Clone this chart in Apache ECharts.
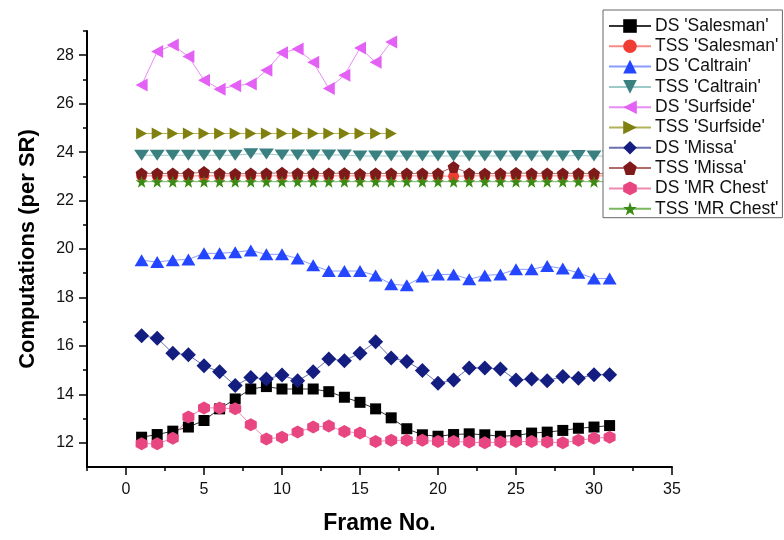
<!DOCTYPE html>
<html>
<head>
<meta charset="utf-8">
<script src="https://cdn.jsdelivr.net/npm/echarts@6/dist/echarts.min.js"></script>
<style>html,body{margin:0;padding:0;background:#fff}#c{width:784px;height:540px}</style>
</head>
<body>
<div id="c"></div>
<script>
var frames = [1,2,3,4,5,6,7,8,9,10,11,12,13,14,15,16,17,18,19,20,21,22,23,24,25,26,27,28,29,30,31];
var dsSalesman = [12.23,12.34,12.48,12.65,12.92,13.40,13.81,14.22,14.32,14.22,14.22,14.22,14.11,13.88,13.67,13.40,13.03,12.58,12.33,12.27,12.34,12.37,12.33,12.27,12.30,12.40,12.44,12.51,12.60,12.65,12.71];
var tssSalesman = [23.02,23.02,23.02,23.02,23.02,23.02,23.02,23.02,23.02,23.02,23.02,23.02,23.02,23.02,23.02,23.02,23.02,23.02,23.02,23.02,23.00,23.02,23.02,23.02,23.02,23.02,23.02,23.02,23.02,23.02,23.02];
var dsCaltrain = [19.54,19.46,19.54,19.57,19.82,19.82,19.87,19.94,19.78,19.78,19.61,19.33,19.09,19.09,19.09,18.91,18.54,18.50,18.86,18.95,18.95,18.75,18.91,18.95,19.16,19.16,19.30,19.19,19.02,18.78,18.78];
var tssCaltrain = [23.87,23.87,23.87,23.87,23.87,23.87,23.87,23.93,23.92,23.88,23.88,23.88,23.88,23.88,23.84,23.84,23.84,23.84,23.84,23.84,23.84,23.84,23.84,23.84,23.84,23.84,23.84,23.84,23.86,23.84,23.84];
var dsSurfside = [26.77,28.15,28.42,27.95,26.97,26.60,26.74,26.81,27.38,28.10,28.26,27.71,26.63,27.17,28.30,27.71,28.55];
var tssSurfside = [24.77,24.77,24.77,24.77,24.77,24.77,24.77,24.77,24.77,24.77,24.77,24.77,24.77,24.77,24.77,24.77,24.77];
var dsMissa = [16.42,16.32,15.70,15.63,15.18,14.93,14.36,14.70,14.63,14.80,14.56,14.93,15.46,15.39,15.70,16.17,15.50,15.36,14.98,14.46,14.59,15.09,15.09,15.05,14.59,14.63,14.56,14.74,14.66,14.81,14.81];
var tssMissa = [23.12,23.12,23.12,23.11,23.18,23.12,23.10,23.12,23.12,23.15,23.12,23.12,23.12,23.13,23.10,23.12,23.12,23.12,23.12,23.12,23.39,23.12,23.11,23.12,23.14,23.12,23.12,23.12,23.12,23.12,23.10];
var dsMRChest = [11.96,11.96,12.19,13.06,13.44,13.44,13.40,12.74,12.16,12.23,12.44,12.65,12.69,12.47,12.40,12.05,12.10,12.10,12.10,12.05,12.05,12.03,12.00,12.03,12.05,12.05,12.03,12.00,12.10,12.19,12.23];
var tssMRChest = [22.78,22.78,22.78,22.78,22.78,22.78,22.78,22.78,22.78,22.78,22.78,22.78,22.78,22.78,22.78,22.78,22.78,22.78,22.78,22.78,22.78,22.78,22.78,22.78,22.78,22.78,22.78,22.78,22.78,22.78,22.78];
var seriesNames = ["DS 'Salesman'","TSS 'Salesman'","DS 'Caltrain'","TSS 'Caltrain'","DS 'Surfside'","TSS 'Surfside'","DS 'Missa'","TSS 'Missa'","DS 'MR Chest'","TSS 'MR Chest'"];
var xMajor = [0,5,10,15,20,25,30,35];
var xMinor = [-2.5,2.5,7.5,12.5,17.5,22.5,27.5,32.5];
var yMajor = [12,14,16,18,20,22,24,26,28];
var yMinor = [13,15,17,19,21,23,25,27,29];

var SYM = {
  square: 'rect',
  circle: 'circle',
  up: 'triangle',
  down: 'path://M0,0L10,0L5,8.66Z',
  left: 'path://M0,5L8.66,0L8.66,10Z',
  right: 'path://M0,0L8.66,5L0,10Z',
  diamond: 'diamond',
  pentagon: 'path://M0,-10L9.51,-3.09L5.88,8.09L-5.88,8.09L-9.51,-3.09Z',
  hexagon: 'path://M0,-10L8.66,-5L8.66,5L0,10L-8.66,5L-8.66,-5Z',
  star: 'path://M0,-10L2.35,-3.24L9.51,-3.09L3.8,1.24L5.88,8.09L0,4L-5.88,8.09L-3.8,1.24L-9.51,-3.09L-2.35,-3.24Z'
};

function pairs(vals) {
  var out = [];
  for (var i = 0; i < vals.length; i++) out.push([frames[i], vals[i]]);
  return out;
}
function mk(name, vals, sym, size, color, lineColor) {
  return {
    name: name, type: 'line', data: pairs(vals),
    symbol: sym, symbolSize: size, showSymbol: true,
    itemStyle: {color: color},
    lineStyle: {color: lineColor, width: 1},
    emphasis: {disabled: true},
    animation: false
  };
}

var series = [
  mk(seriesNames[0], dsSalesman, SYM.square, 11, '#000000', '#333333'),
  mk(seriesNames[1], tssSalesman, SYM.circle, 11, '#f03c32', '#f58a86'),
  mk(seriesNames[2], dsCaltrain, SYM.up, [14, 12], '#2446ff', '#8a9cff'),
  mk(seriesNames[3], tssCaltrain, SYM.down, [15, 11], '#3a8080', '#9fcaca'),
  mk(seriesNames[4], dsSurfside, SYM.left, [12, 13], '#e362f5', '#e98cf5'),
  mk(seriesNames[5], tssSurfside, SYM.right, [11, 12], '#808010', '#b2b25a'),
  mk(seriesNames[6], dsMissa, SYM.diamond, [15, 15], '#141e80', '#6a70b0'),
  mk(seriesNames[7], tssMissa, SYM.pentagon, [12, 12], '#7f1a1a', '#b06a6a'),
  mk(seriesNames[8], dsMRChest, SYM.hexagon, [12, 13], '#e84680', '#f08ab0'),
  mk(seriesNames[9], tssMRChest, SYM.star, [12, 12], '#3a8a14', '#7ab860')
];

var axisTxt = {color: '#111', fontFamily: 'Liberation Sans, Arial, sans-serif', fontSize: 16};
var option = {
  backgroundColor: '#fff',
  animation: false,
  grid: {left: 87, right: 112, top: 31, bottom: 70, containLabel: false},
  legend: {
    orient: 'vertical', left: 603, top: 10,
    padding: [7, 4, 0, 5], itemGap: 2.3,
    itemWidth: 42, itemHeight: 17,
    borderColor: '#666', borderWidth: 1, backgroundColor: '#fff',
    textStyle: {color: '#111', fontFamily: 'Liberation Sans, Arial, sans-serif', fontSize: 17.5, lineHeight: 18, padding: [0, 0, 0, -1]},
    data: seriesNames
  },
  xAxis: [
    {
      type: 'value', min: -2.5, max: 35,
      name: 'Frame No.', nameLocation: 'middle', nameGap: 45,
      nameTextStyle: {color: '#000', fontFamily: 'Liberation Sans, Arial, sans-serif', fontSize: 23, fontWeight: 'bold'},
      axisLine: {show: true, onZero: false, lineStyle: {color: '#000', width: 2}},
      axisTick: {show: true, customValues: xMajor, length: 8, lineStyle: {color: '#000', width: 1.5}},
      axisLabel: Object.assign({show: true, customValues: xMajor, margin: 15}, axisTxt),
      splitLine: {show: false}
    },
    {
      type: 'value', min: -2.5, max: 35, position: 'bottom',
      axisLine: {show: false, onZero: false},
      axisTick: {show: true, customValues: xMinor, length: 4, lineStyle: {color: '#000', width: 1.5}},
      axisLabel: {show: false},
      splitLine: {show: false}
    }
  ],
  yAxis: [
    {
      type: 'value', min: 11, max: 29,
      name: 'Computations (per SR)', nameLocation: 'middle', nameGap: 48,
      nameTextStyle: {color: '#000', fontFamily: 'Liberation Sans, Arial, sans-serif', fontSize: 22, fontWeight: 'bold'},
      axisLine: {show: true, onZero: false, lineStyle: {color: '#000', width: 2}},
      axisTick: {show: true, customValues: yMajor, length: 8, lineStyle: {color: '#000', width: 1.5}},
      axisLabel: Object.assign({show: true, customValues: yMajor, margin: 13}, axisTxt),
      splitLine: {show: false}
    },
    {
      type: 'value', min: 11, max: 29, position: 'left',
      axisLine: {show: false, onZero: false},
      axisTick: {show: true, customValues: yMinor, length: 4, lineStyle: {color: '#000', width: 1.5}},
      axisLabel: {show: false},
      splitLine: {show: false}
    }
  ],
  series: series
};
var chart = echarts.init(document.getElementById('c'), null, {renderer: 'canvas'});
chart.setOption(option);
</script>
</body>
</html>
